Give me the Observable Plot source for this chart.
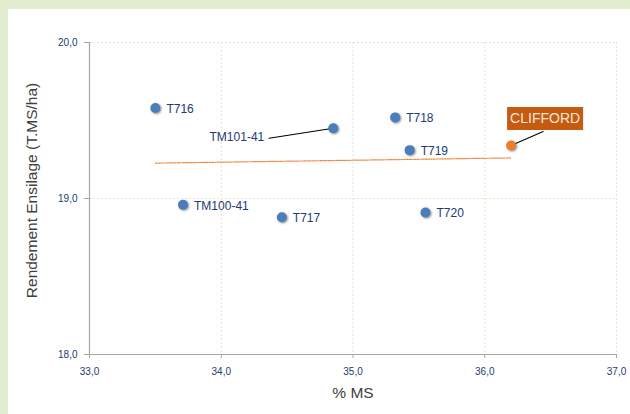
<!DOCTYPE html>
<html><head><meta charset="utf-8">
<script src="https://cdn.jsdelivr.net/npm/d3@7"></script>
<script src="https://cdn.jsdelivr.net/npm/@observablehq/plot@0.6"></script>
<style>
html,body{margin:0;padding:0;background:#fff;}
#wrap{position:relative;width:630px;height:414px;overflow:hidden;}
.strip{position:absolute;background:#e2edcf;}
#wrap svg g[aria-label="dot"] circle{filter:drop-shadow(1.5px 1.5px 1px rgba(0,0,0,0.45));}
</style>
</head><body>
<div id="wrap"></div>
<script>
// Data
const names = ["T716","TM101-41","T718","T719","CLIFFORD","TM100-41","T717","T720"];
const ms = [33.50, 34.85, 35.32, 35.43, 36.20, 33.71, 34.46, 35.55];
const rendement = [19.58, 19.45, 19.52, 19.31, 19.34, 18.96, 18.88, 18.91];
const xTicks = [33, 34, 35, 36, 37];
const yTicks = [18, 19, 20];
const xTitle = "% MS";
const yTitle = "Rendement Ensilage (T.MS/ha)";

const data = names.map((n, i) => ({name: n, x: ms[i], y: rendement[i]}));
const isRef = d => d.name === "CLIFFORD";
const plain = data.filter(d => d.name !== "CLIFFORD" && d.name !== "TM101-41");
const tm101 = data.filter(d => d.name === "TM101-41");
const ref = data.filter(isRef);
const fmt = d => d.toFixed(1).replace(".", ",");

const navy = "#213a73";
const font = "'Liberation Sans', Arial, sans-serif";
const line = {draw(ctx, l) { ctx.moveTo(0, 0); ctx.lineTo(0, -l); }};
const box = {draw(ctx) { ctx.rect(-38, -11.5, 76, 23); }};

const chart = Plot.plot({
  width: 630, height: 414,
  marginLeft: 89, marginRight: 14, marginTop: 42, marginBottom: 60,
  style: {fontFamily: font, background: "transparent"},
  x: {domain: [33, 37]},
  y: {domain: [18, 20]},
  marks: [
    Plot.gridX(xTicks.slice(1), {stroke: "#e8e4cc", strokeOpacity: 1, strokeDasharray: "2,2"}),
    Plot.gridY(yTicks.slice(1), {stroke: "#e8e4cc", strokeOpacity: 1, strokeDasharray: "2,2"}),
    Plot.ruleX([33], {stroke: "#a6a6a6", strokeWidth: 1.2}),
    Plot.ruleY([18], {stroke: "#a6a6a6", strokeWidth: 1.2}),
    Plot.axisX({ticks: xTicks, tickFormat: fmt, tickSize: 4, tickPadding: 9, stroke: "#a6a6a6", fill: navy, fontSize: 10, label: null}),
    Plot.axisY({ticks: yTicks, tickFormat: fmt, tickSize: 5, tickPadding: 7, stroke: "#a6a6a6", fill: navy, fontSize: 10, label: null}),
    Plot.text([xTitle], {frameAnchor: "bottom", dy: 43, fontSize: 15.5, fill: "#404040"}),
    Plot.text([yTitle], {frameAnchor: "left", textAnchor: "middle", rotate: -90, dx: -57, dy: -8, fontSize: 15.5, fill: "#404040"}),
    Plot.linearRegressionY(data, {x: "x", y: "y", ci: 0, stroke: "#f0883a", strokeWidth: 1.2, strokeDasharray: "1.5,1.2"}),
    Plot.vector(tm101, {x: "x", y: "y", length: 65, rotate: -98.9, anchor: "start", shape: line, stroke: "#000", strokeWidth: 1}),
    Plot.vector(ref, {x: "x", y: "y", length: 35, rotate: 66.4, anchor: "start", shape: line, stroke: "#000", strokeWidth: 1}),
    Plot.dot(data.filter(d => !isRef(d)), {x: "x", y: "y", r: 5, fill: "#4a7ebb"}),
    Plot.dot(ref, {x: "x", y: "y", r: 5, fill: "#f07d2c"}),
    Plot.text(plain, {x: "x", y: "y", text: "name", textAnchor: "start", dx: 11, dy: 1, fontSize: 12, fill: navy}),
    Plot.text(tm101, {x: "x", y: "y", text: "name", textAnchor: "end", dx: -69, dy: 9, fontSize: 12, fill: navy}),
    Plot.dot(ref, {x: "x", y: "y", symbol: box, r: 10, fill: "#c55a11", dx: 34, dy: -27}),
    Plot.text(ref, {x: "x", y: "y", text: "name", dx: 34, dy: -27, fontSize: 14, fill: "#f6e7d8"})
  ]
});
const wrap = document.getElementById("wrap");
wrap.appendChild(chart);
const stripTop = document.createElement("div"); stripTop.className = "strip";
Object.assign(stripTop.style, {left: "0px", top: "0px", width: "630px", height: "9px"});
const stripLeft = document.createElement("div"); stripLeft.className = "strip";
Object.assign(stripLeft.style, {left: "0px", top: "0px", width: "8px", height: "414px"});
wrap.appendChild(stripTop); wrap.appendChild(stripLeft);
</script>
</body></html>
